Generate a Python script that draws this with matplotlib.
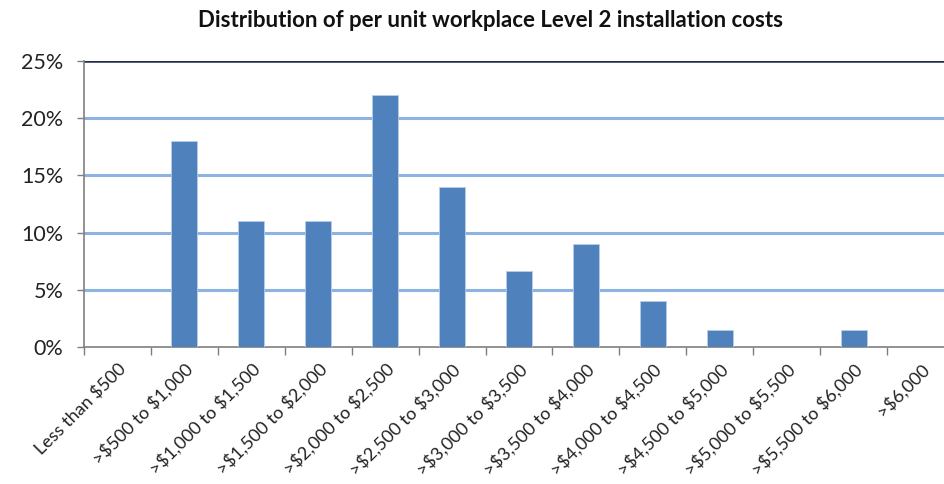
import numpy as np
import matplotlib.pyplot as plt
from matplotlib.ticker import FixedLocator, FuncFormatter

categories = ["Less than $500", ">$500 to $1,000", ">$1,000 to $1,500", ">$1,500 to $2,000",
              ">$2,000 to $2,500", ">$2,500 to $3,000", ">$3,000 to $3,500", ">$3,500 to $4,000",
              ">$4,000 to $4,500", ">$4,500 to $5,000", ">$5,000 to $5,500", ">$5,500 to $6,000",
              ">$6,000"]
shares = [0, 18, 11, 11, 22, 14, 6.6, 9, 4, 1.5, 0, 1.5, 0]
yticks = [0, 5, 10, 15, 20, 25]

plt.rcParams['font.family'] = ['Lato', 'DejaVu Sans']
plt.rcParams['text.parse_math'] = False

fig = plt.figure(figsize=(9.45, 4.84), dpi=100)
ax = fig.add_axes([84 / 945, 1 - 347 / 484, (954 - 84) / 945, (347 - 61) / 484])

x = np.arange(len(categories))
ax.bar(x, shares, width=0.39, color='#4f81bd', edgecolor='#b9cde5', linewidth=0.6, zorder=3)

ax.set_xlim(-0.5, len(categories) - 0.5)
ax.set_ylim(0, 25)

for v in yticks[1:-1]:
    ax.axhline(v, color='#8db3e2', linewidth=2.2, zorder=1)
ax.axhline(25, color='#1f2d4a', linewidth=1.8, zorder=2)

ax.set_yticks(yticks)
ax.yaxis.set_major_formatter(FuncFormatter(lambda v, p: f"{int(v)}%"))
ax.tick_params(axis='y', length=5, width=1, color='#7f7f7f', labelsize=15.5, pad=10, labelcolor='#222222')

ax.set_xticks(x)
ax.set_xticklabels(categories, rotation=45, ha='right', rotation_mode='anchor', fontsize=13, color='#222222')
ax.tick_params(axis='x', which='major', length=0, pad=10)
ax.xaxis.set_minor_locator(FixedLocator(np.arange(-0.5, len(categories), 1)))
ax.tick_params(axis='x', which='minor', length=6, width=1, color='#7f7f7f')

for s in ['top', 'right']:
    ax.spines[s].set_visible(False)
for s in ['left', 'bottom']:
    ax.spines[s].set_color('#7f7f7f')
    ax.spines[s].set_linewidth(1.2)

fig.text(0.519, 0.958, "Distribution of per unit workplace Level 2 installation costs",
         ha='center', va='center', fontsize=16, fontweight='bold', color='#111111')

fig.savefig('out.png', dpi=100)
